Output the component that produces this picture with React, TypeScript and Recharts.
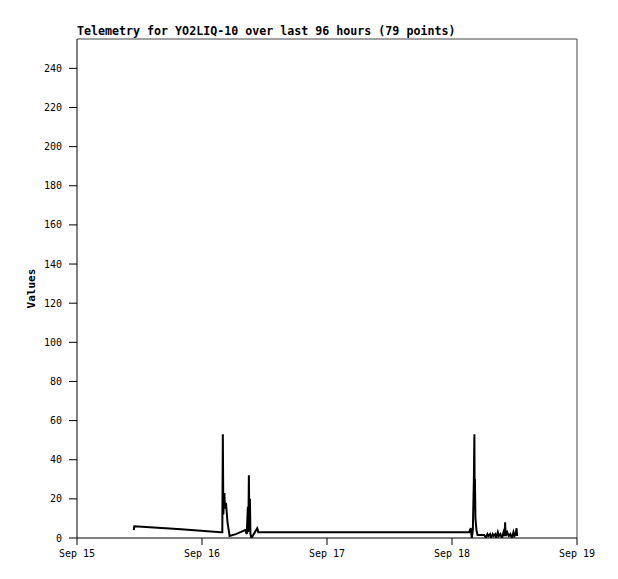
import { LineChart, Line, XAxis, YAxis, ReferenceLine } from 'recharts';

// hours since Sep 15 00:00
const hours = [
  10.9, 11.0, 14.0, 20.0, 27.6,
  27.9, 28.0, 28.1, 28.2, 28.3, 28.4, 28.6, 28.9, 29.3,
  30.5, 32.3, 32.6, 32.8, 32.9, 33.0, 33.1, 33.2, 33.3, 33.5, 34.6, 34.8,
  50.0, 75.3,
  75.6, 75.8, 76.0, 76.2, 76.3, 76.35, 76.4, 76.5, 76.7, 76.9, 78.2, 78.5,
  78.8, 79.0, 79.3, 79.5, 79.8, 80.0, 80.3, 80.5, 80.8, 81.0, 81.3, 81.6,
  81.9, 82.1, 82.2, 82.3, 82.6, 82.9, 83.2, 83.5, 83.8, 84.0, 84.2, 84.4, 84.5
];
const values = [
  4, 6, 5.5, 4.5, 3,
  3, 53, 12, 20, 23, 15, 18, 8, 1,
  2, 4, 2, 16, 3, 32, 6, 20, 2, 0, 5, 3,
  3, 3,
  5, 0, 4, 30, 53, 20, 30, 10, 4, 1.5, 1.5, 0,
  2, 1, 2, 0, 2, 1, 2, 0, 3, 1, 2, 0,
  3, 1, 8, 1, 3, 1, 2, 0, 3, 1, 2, 5, 1
];
const xTicks = [0, 24, 48, 72, 96];
const xTickLabels = ['Sep 15', 'Sep 16', 'Sep 17', 'Sep 18', 'Sep 19'];
const yTicks = [0, 20, 40, 60, 80, 100, 120, 140, 160, 180, 200, 220, 240];

const data = hours.map((h, i) => ({ t: h, v: values[i] }));

const FONT = '"DejaVu Sans Mono", monospace';

export default function App() {
  return (
    <div style={{ position: 'absolute', left: 0, top: 0, width: 618, height: 579, background: '#fff' }}>
      <div
        style={{
          position: 'absolute',
          left: 77,
          top: 24,
          fontFamily: FONT,
          fontWeight: 'bold',
          fontSize: 11.65,
          color: '#000',
          whiteSpace: 'nowrap'
        }}
      >
        Telemetry for YO2LIQ-10 over last 96 hours (79 points)
      </div>
      <LineChart
        width={618}
        height={579}
        data={data}
        margin={{ top: 39, right: 41, bottom: 11, left: 17 }}
      >
        <XAxis
          dataKey="t"
          type="number"
          domain={[0, 96]}
          ticks={xTicks}
          tickFormatter={(v: number) => xTickLabels[xTicks.indexOf(v)]}
          height={30}
          stroke="#000"
          tickSize={7}
          tickMargin={5}
          tick={{ fill: '#000', fontSize: 10, fontFamily: FONT }}
          interval={0}
        />
        <YAxis
          type="number"
          domain={[0, 255]}
          ticks={yTicks}
          width={60}
          stroke="#000"
          tickSize={8}
          tickMargin={7}
          tick={{ fill: '#000', fontSize: 10, fontFamily: FONT }}
          interval={0}
          allowDataOverflow
          label={{
            value: 'Values',
            angle: -90,
            position: 'insideLeft',
            offset: 14,
            style: { fill: '#000', fontSize: 11, fontWeight: 'bold', fontFamily: FONT, textAnchor: 'middle' }
          }}
        />
        <ReferenceLine y={255} stroke="#444" ifOverflow="extendDomain" />
        <ReferenceLine x={96} stroke="#444" ifOverflow="extendDomain" />
        <Line
          type="linear"
          dataKey="v"
          stroke="#000"
          strokeWidth={2}
          dot={false}
          isAnimationActive={false}
        />
      </LineChart>
    </div>
  );
}
